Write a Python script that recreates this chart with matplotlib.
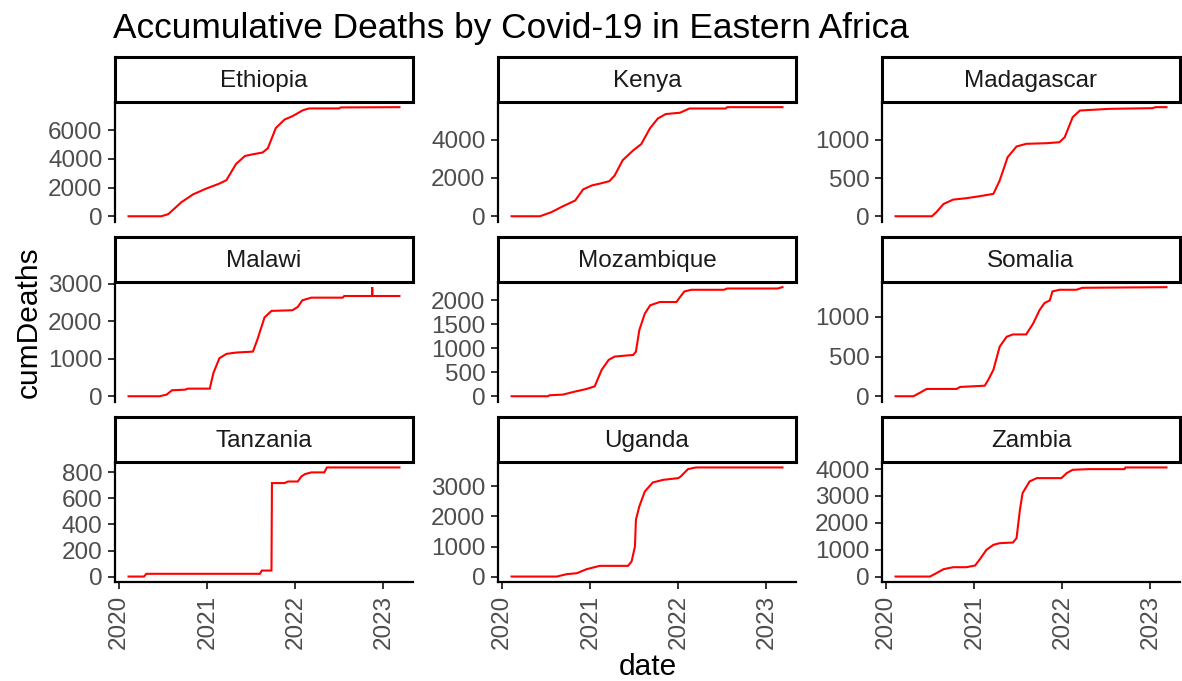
import matplotlib
matplotlib.use("Agg")
import matplotlib.pyplot as plt
import matplotlib.dates as mdates
import pandas as pd

plt.rcParams["font.family"] = ["Liberation Sans", "DejaVu Sans"]

# Cumulative Covid-19 deaths, sampled at the dates where each curve bends
countries = ["Ethiopia", "Kenya", "Madagascar",
             "Malawi", "Mozambique", "Somalia",
             "Tanzania", "Uganda", "Zambia"]

ethiopia_dates = ["2020-02-09", "2020-06-24", "2020-07-23", "2020-09-16", "2020-11-03",
                  "2020-12-27", "2021-02-20", "2021-03-21", "2021-04-30", "2021-06-06",
                  "2021-07-09", "2021-08-18", "2021-09-09", "2021-10-12", "2021-11-17",
                  "2021-12-20", "2022-02-02", "2022-02-27", "2022-07-01", "2022-07-08",
                  "2023-03-09"]
ethiopia_deaths = [0, 0, 150, 990, 1530, 1930, 2280, 2520, 3650, 4210, 4330, 4450, 4750,
                   6160, 6750, 6990, 7410, 7530, 7530, 7600, 7620]

kenya_dates = ["2020-02-09", "2020-06-06", "2020-07-23", "2020-09-09", "2020-10-30",
               "2020-12-02", "2021-01-08", "2021-02-09", "2021-03-21", "2021-04-12",
               "2021-05-15", "2021-06-28", "2021-07-31", "2021-09-05", "2021-10-08",
               "2021-11-10", "2022-01-08", "2022-02-16", "2022-07-16", "2022-07-23",
               "2023-03-09"]
kenya_deaths = [0, 0, 210, 520, 820, 1400, 1610, 1700, 1830, 2130, 2920, 3440, 3760, 4580,
                5100, 5330, 5400, 5620, 5620, 5690, 5690]

madagascar_dates = ["2020-02-09", "2020-07-09", "2020-07-27", "2020-08-26", "2020-10-05",
                    "2020-11-29", "2021-01-22", "2021-03-21", "2021-04-16", "2021-05-19",
                    "2021-06-25", "2021-08-04", "2021-10-27", "2021-12-20", "2022-01-11",
                    "2022-02-13", "2022-03-15", "2022-07-16", "2023-01-11", "2023-01-22",
                    "2023-03-09"]
madagascar_deaths = [0, 0, 52, 160, 218, 236, 262, 293, 467, 773, 913, 948, 956, 969, 1035,
                     1297, 1384, 1406, 1415, 1428, 1428]

malawi_dates = ["2020-02-09", "2020-06-17", "2020-07-16", "2020-08-07", "2020-10-01",
                "2020-10-12", "2021-01-11", "2021-01-26", "2021-02-20", "2021-03-21",
                "2021-04-30", "2021-07-09", "2021-07-27", "2021-08-26", "2021-09-24",
                "2021-12-20", "2022-01-11", "2022-01-30", "2022-03-08", "2022-07-16",
                "2022-07-23", "2022-11-15", "2022-11-16", "2022-11-17", "2023-03-09"]
malawi_deaths = [0, 0, 44, 159, 176, 203, 203, 618, 1015, 1130, 1165, 1191, 1500, 2100,
                 2277, 2294, 2382, 2559, 2630, 2630, 2674, 2674, 2910, 2674, 2674]

mozambique_dates = ["2020-02-09", "2020-07-09", "2020-07-16", "2020-09-09", "2020-10-23",
                    "2020-12-16", "2021-01-19", "2021-02-17", "2021-03-18", "2021-04-12",
                    "2021-06-28", "2021-07-09", "2021-07-23", "2021-08-15", "2021-09-06",
                    "2021-10-16", "2021-12-24", "2022-01-08", "2022-01-26", "2022-02-24",
                    "2022-07-09", "2022-07-23", "2023-02-17", "2023-03-09"]
mozambique_deaths = [0, 0, 21, 34, 90, 152, 207, 552, 759, 828, 862, 931, 1379, 1724, 1897,
                     1966, 1966, 2069, 2186, 2221, 2221, 2248, 2248, 2276]

somalia_dates = ["2020-02-09", "2020-04-23", "2020-05-19", "2020-06-17", "2020-10-19",
                 "2020-11-03", "2021-02-13", "2021-02-28", "2021-03-21", "2021-04-16",
                 "2021-05-15", "2021-06-10", "2021-08-04", "2021-09-02", "2021-09-28",
                 "2021-10-19", "2021-11-10", "2021-11-21", "2021-12-20", "2022-02-28",
                 "2022-03-25", "2023-03-09"]
somalia_deaths = [0, 0, 42, 92, 92, 117, 133, 208, 333, 625, 750, 779, 779, 917, 1083,
                  1175, 1208, 1321, 1342, 1342, 1367, 1375]

tanzania_dates = ["2020-02-09", "2020-04-13", "2020-04-23", "2021-08-07", "2021-08-15",
                  "2021-09-24", "2021-09-26", "2021-11-17", "2021-12-02", "2022-01-11",
                  "2022-01-26", "2022-02-10", "2022-03-08", "2022-05-01", "2022-05-12",
                  "2023-03-09"]
tanzania_deaths = [0, 0, 21, 21, 46, 46, 718, 718, 730, 730, 769, 787, 800, 800, 838, 838]

uganda_dates = ["2020-02-09", "2020-08-15", "2020-09-24", "2020-11-06", "2020-12-16",
                "2021-02-09", "2021-06-06", "2021-06-21", "2021-07-05", "2021-07-09",
                "2021-07-23", "2021-08-15", "2021-09-17", "2021-10-31", "2022-01-01",
                "2022-01-11", "2022-02-10", "2022-03-15", "2023-03-09"]
uganda_deaths = [0, 0, 78, 111, 244, 356, 356, 500, 1000, 1889, 2333, 2833, 3133, 3222,
                 3278, 3333, 3578, 3633, 3633]

zambia_dates = ["2020-02-09", "2020-07-01", "2020-07-27", "2020-08-26", "2020-10-05",
                "2020-11-29", "2021-01-04", "2021-01-22", "2021-02-20", "2021-03-21",
                "2021-04-16", "2021-06-10", "2021-06-25", "2021-07-09", "2021-07-20",
                "2021-08-18", "2021-09-17", "2021-12-28", "2022-01-19", "2022-02-13",
                "2022-04-23", "2022-09-16", "2022-09-20", "2023-03-09"]
zambia_deaths = [0, 0, 124, 273, 348, 348, 410, 621, 994, 1180, 1242, 1267, 1428, 2484,
                 3105, 3540, 3664, 3664, 3850, 3974, 3999, 3999, 4061, 4061]

y_ticks = {
    "Ethiopia": [0, 2000, 4000, 6000],
    "Kenya": [0, 2000, 4000],
    "Madagascar": [0, 500, 1000],
    "Malawi": [0, 1000, 2000, 3000],
    "Mozambique": [0, 500, 1000, 1500, 2000],
    "Somalia": [0, 500, 1000],
    "Tanzania": [0, 200, 400, 600, 800],
    "Uganda": [0, 1000, 2000, 3000],
    "Zambia": [0, 1000, 2000, 3000, 4000],
}
year_ticks = ["2020-01-01", "2021-01-01", "2022-01-01", "2023-01-01"]

series = {
    "Ethiopia": (ethiopia_dates, ethiopia_deaths),
    "Kenya": (kenya_dates, kenya_deaths),
    "Madagascar": (madagascar_dates, madagascar_deaths),
    "Malawi": (malawi_dates, malawi_deaths),
    "Mozambique": (mozambique_dates, mozambique_deaths),
    "Somalia": (somalia_dates, somalia_deaths),
    "Tanzania": (tanzania_dates, tanzania_deaths),
    "Uganda": (uganda_dates, uganda_deaths),
    "Zambia": (zambia_dates, zambia_deaths),
}

W, H = 1182, 681
fig = plt.figure(figsize=(W / 100, H / 100), dpi=100)
fig.patch.set_facecolor("white")

col_left = [115, 498, 882]
panel_w = 298
panel_top = [101.7, 281.7, 462]
panel_h = 120
strip_h = 45

tick_fs = 17.5
axis_fs = 21.5
title_fs = 25.4

def box(x, y, w, h):
    return [x / W, 1 - (y + h) / H, w / W, h / H]

for i, name in enumerate(countries):
    r, c = divmod(i, 3)
    x0, y0 = col_left[c], panel_top[r]
    ax = fig.add_axes(box(x0, y0, panel_w, panel_h))
    dates, deaths = series[name]
    ax.plot(pd.to_datetime(dates), deaths, color="#FF0000", lw=1.5, solid_joinstyle="miter")
    ax.margins(x=0.05, y=0.05)
    ax.set_facecolor("white")
    for s in ("top", "right"):
        ax.spines[s].set_visible(False)
    ax.spines["left"].set_linewidth(1.6)
    ax.spines["left"].set_color("black")
    ax.set_yticks(y_ticks[name])
    ax.set_yticklabels([str(v) for v in y_ticks[name]])
    ax.tick_params(axis="y", length=5, width=1.4, color="#333333",
                   labelsize=tick_fs, labelcolor="#4D4D4D", pad=4)
    ax.set_xticks(pd.to_datetime(year_ticks))
    ax.xaxis.set_major_formatter(mdates.DateFormatter("%Y"))
    if r == 2:
        ax.spines["bottom"].set_linewidth(1.6)
        ax.spines["bottom"].set_color("black")
        ax.tick_params(axis="x", length=5, width=1.4, color="#333333",
                       labelsize=tick_fs, labelcolor="#4D4D4D", pad=4,
                       labelrotation=90)
    else:
        ax.spines["bottom"].set_visible(False)
        ax.tick_params(axis="x", length=0, labelbottom=False)

    # facet strip
    sax = fig.add_axes(box(x0, y0 - strip_h, panel_w, strip_h))
    sax.set_xticks([])
    sax.set_yticks([])
    sax.set_facecolor("white")
    for s in sax.spines.values():
        s.set_linewidth(2.2)
        s.set_color("black")
    sax.text(0.5, 0.47, name, ha="center", va="center", fontsize=tick_fs,
             color="#1A1A1A", transform=sax.transAxes)

fig.text(113 / W, 1 - 38 / H, "Accumulative Deaths by Covid-19 in Eastern Africa",
         ha="left", va="baseline", fontsize=title_fs, color="black")
fig.text(648 / W, 1 - 675 / H, "date", ha="center", va="baseline",
         fontsize=axis_fs, color="black")
fig.text(29 / W, 1 - 322 / H, "cumDeaths", ha="center", va="center",
         rotation=90, fontsize=axis_fs, color="black")

fig.savefig("out.png", dpi=100, facecolor="white")
